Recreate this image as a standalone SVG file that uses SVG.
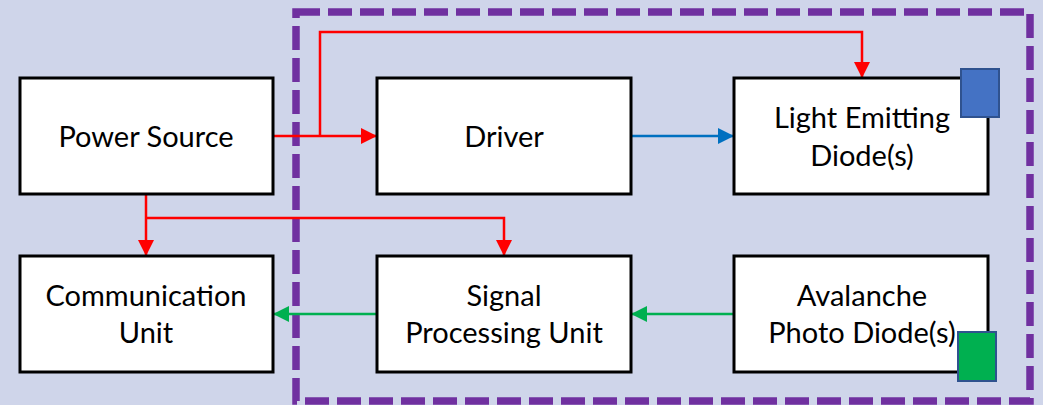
<svg xmlns="http://www.w3.org/2000/svg" width="1043" height="405" viewBox="0 0 1043 405">
<style>
.box{fill:#fff;stroke:#000;stroke-width:3}
.lbl{font-family:Lato,"Liberation Sans",sans-serif;font-size:29px;fill:#000;text-anchor:middle}
.red{fill:none;stroke:#FF0000;stroke-width:2.5}
.blue{fill:none;stroke:#0070C0;stroke-width:2.5}
.green{fill:none;stroke:#00B050;stroke-width:2.5}
</style>
<defs>
<marker id="ar" viewBox="0 0 16 16" refX="16" refY="8" markerWidth="16" markerHeight="16" markerUnits="userSpaceOnUse" orient="auto"><path d="M0,0 L16,8 L0,16 Z" fill="#FF0000"/></marker>
<marker id="ab" viewBox="0 0 16 16" refX="16" refY="8" markerWidth="16" markerHeight="16" markerUnits="userSpaceOnUse" orient="auto"><path d="M0,0 L16,8 L0,16 Z" fill="#0070C0"/></marker>
<marker id="ag" viewBox="0 0 16 16" refX="16" refY="8" markerWidth="16" markerHeight="16" markerUnits="userSpaceOnUse" orient="auto"><path d="M0,0 L16,8 L0,16 Z" fill="#00B050"/></marker>
</defs>
<rect x="0" y="0" width="1043" height="405" fill="#CFD5EA"/>
<rect x="296" y="12" width="734" height="389" fill="none" stroke="#7030A0" stroke-width="7.5" stroke-dasharray="24 8"/>
<g id="connectors">
<path class="red" d="M273,136 H377" marker-end="url(#ar)"/>
<path class="red" d="M320,136 V32 H862 V78" marker-end="url(#ar)"/>
<path class="red" d="M146,194 V256" marker-end="url(#ar)"/>
<path class="red" d="M146,218 H504 V256" marker-end="url(#ar)"/>
<path class="blue" d="M631,136 H734" marker-end="url(#ab)"/>
<path class="green" d="M734,314 H631" marker-end="url(#ag)"/>
<path class="green" d="M377,314 H273" marker-end="url(#ag)"/>
</g>
<g id="power-source"><rect class="box" x="20" y="78" width="253" height="116"/><text class="lbl" x="146" y="147">Power Source</text></g>
<g id="driver"><rect class="box" x="377" y="78" width="254" height="116"/><text class="lbl" x="504" y="147">Driver</text></g>
<g id="led"><rect class="box" x="734" y="78" width="254" height="116"/><text class="lbl" x="862" y="128">Light Emitting</text><text class="lbl" x="862" y="166">Diode(s)</text><rect x="961" y="69" width="38" height="48" fill="#4472C4" stroke="#2F528F" stroke-width="2"/></g>
<g id="communication-unit"><rect class="box" x="20" y="256" width="253" height="116"/><text class="lbl" x="146" y="306">Communication</text><text class="lbl" x="146" y="343">Unit</text></g>
<g id="signal-processing"><rect class="box" x="377" y="256" width="254" height="116"/><text class="lbl" x="504" y="306">Signal</text><text class="lbl" x="504" y="343">Processing Unit</text></g>
<g id="apd"><rect class="box" x="734" y="256" width="254" height="116"/><text class="lbl" x="862" y="306">Avalanche</text><text class="lbl" x="862" y="343">Photo Diode(s)</text><rect x="958" y="332" width="38" height="49" fill="#00B050" stroke="#2F528F" stroke-width="2"/></g>
</svg>
